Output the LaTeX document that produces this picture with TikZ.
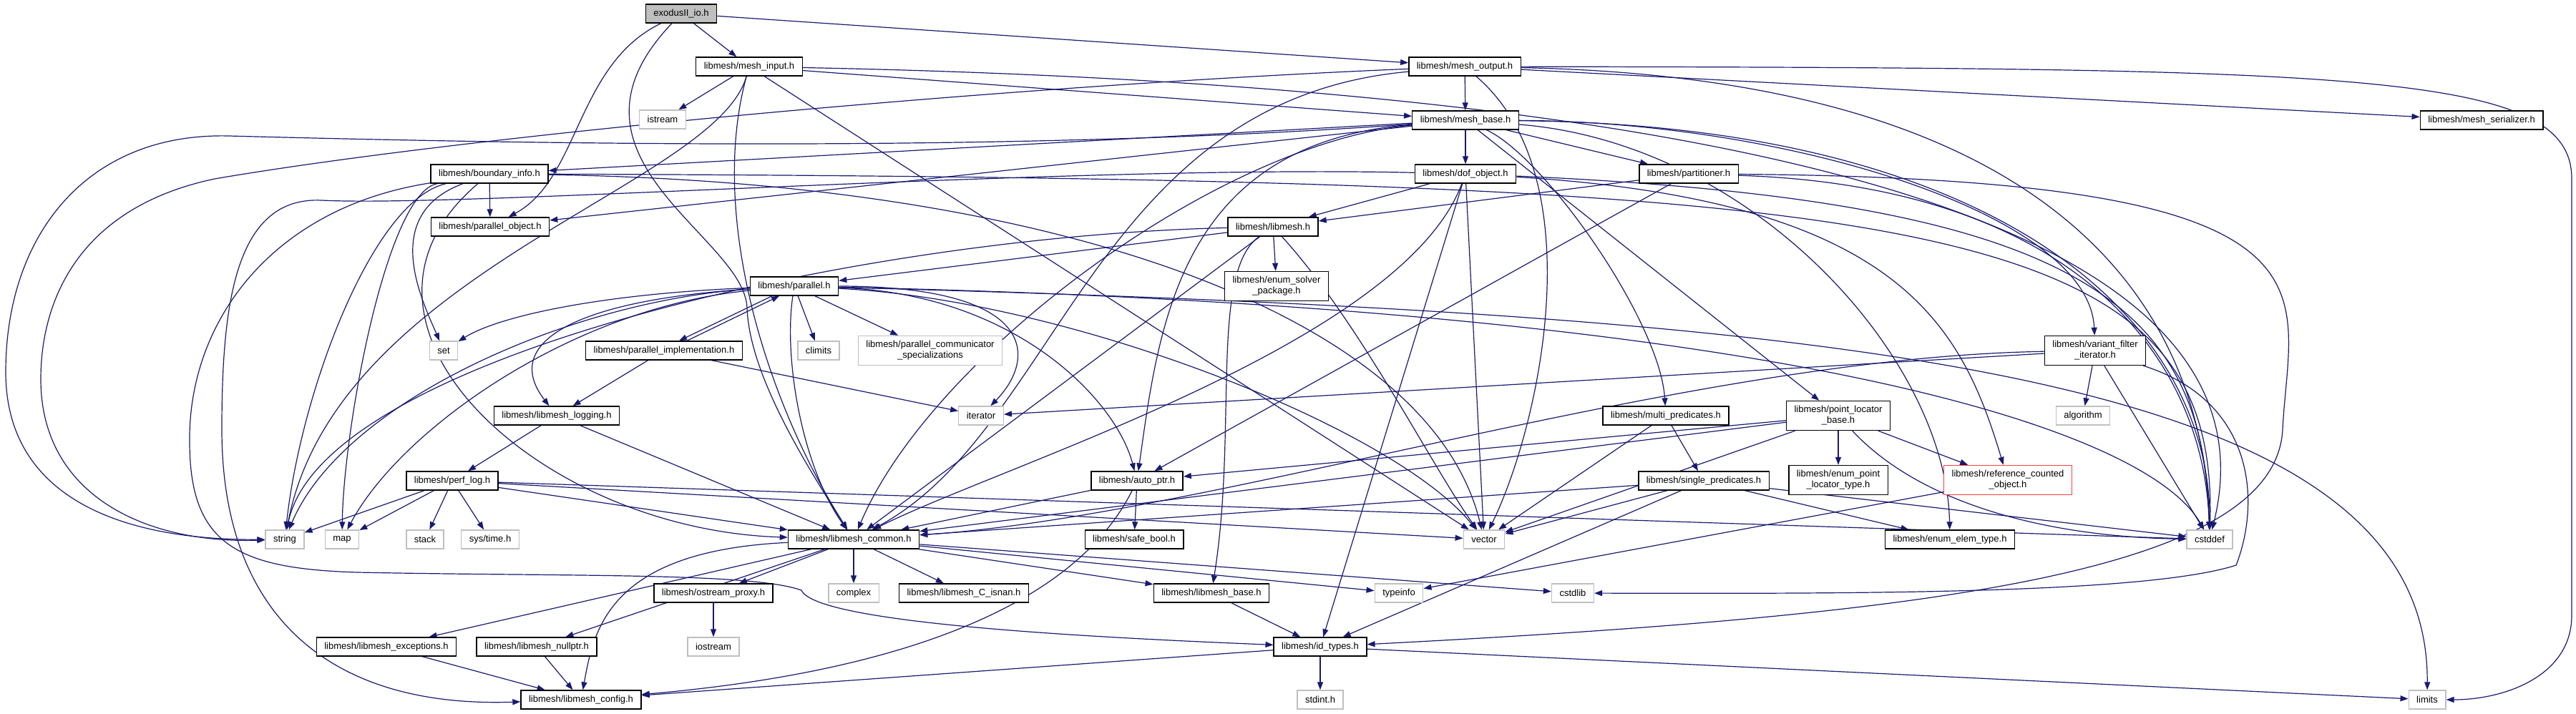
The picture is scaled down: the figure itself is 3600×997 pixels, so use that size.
\documentclass[tikz,border=0pt]{standalone}
\usepackage{fontspec}
\setmainfont{Liberation Sans}
\usepackage{tikz}
\usetikzlibrary{arrows.meta,backgrounds}
\definecolor{edgeblue}{HTML}{191970}
\definecolor{sysgray}{HTML}{BFBFBF}

\begin{document}
\begin{tikzpicture}[x=1pt,y=-1pt,
	hdr/.style={draw=black,line width=1.4pt,fill=white,inner xsep=11pt,inner ysep=0pt,minimum height=26pt,align=center,font={\fontsize{13}{15}\selectfont}},
	sys/.style={hdr,draw=sysgray},
	two/.style={minimum height=41pt},
	dep/.style={draw=edgeblue,line width=1.2pt,-{Triangle[length=11pt,width=8pt]},fill=none}]

			\useasboundingbox (0,0) rectangle (3600,997);

			\node[hdr,fill=sysgray] (exodus) at (952,19) {exodusII\_io.h};
			\node[hdr] (minput) at (1047,93) {libmesh/mesh\_input.h};
			\node[sys] (istream) at (926,167) {istream};
			\node[hdr] (moutput) at (2047,93) {libmesh/mesh\_output.h};
			\node[hdr] (mbase) at (2048,168) {libmesh/mesh\_base.h};
			\node[hdr] (mserial) at (3468,168) {libmesh/mesh\_serializer.h};
			\node[hdr] (binfo) at (684,243) {libmesh/boundary\_info.h};
			\node[hdr] (dofobj) at (2048,243) {libmesh/dof\_object.h};
			\node[hdr] (partit) at (2360,243) {libmesh/partitioner.h};
			\node[hdr] (pobject) at (685,317) {libmesh/parallel\_object.h};
			\node[hdr] (libmeshh) at (1779,317) {libmesh/libmesh.h};
			\node[hdr] (parallel) at (1110,400) {libmesh/parallel.h};
			\node[hdr,two] (solver) at (1784,400) {libmesh/enum\_solver\\\_package.h};
			\node[sys] (set) at (620,490) {set};
			\node[hdr] (pimpl) at (928,490) {libmesh/parallel\_implementation.h};
			\node[sys] (climits) at (1144,490) {climits};
			\node[sys,two] (pcomm) at (1300,490) {libmesh/parallel\_communicator\\\_specializations};
			\node[hdr,two] (vfilter) at (2928,490) {libmesh/variant\_filter\\\_iterator.h};
			\node[hdr] (logging) at (778,581) {libmesh/libmesh\_logging.h};
			\node[sys] (iterator) at (1371,581) {iterator};
			\node[hdr] (multi) at (2328,581) {libmesh/multi\_predicates.h};
			\node[hdr,two] (plocator) at (2569,581) {libmesh/point\_locator\\\_base.h};
			\node[sys] (algorithm) at (2911,581) {algorithm};
			\node[hdr] (perflog) at (632,672) {libmesh/perf\_log.h};
			\node[hdr] (autoptr) at (1589,672) {libmesh/auto\_ptr.h};
			\node[hdr] (single) at (2381,672) {libmesh/single\_predicates.h};
			\node[hdr,two] (eplt) at (2569,671) {libmesh/enum\_point\\\_locator\_type.h};
			\node[hdr,two,draw=red!75] (refcount) at (2806,671) {libmesh/reference\_counted\\\_object.h};
			\node[sys] (string) at (398,754) {string};
			\node[sys] (map) at (478,754) {map};
			\node[sys] (stack) at (594,754) {stack};
			\node[sys] (systime) at (685,754) {sys/time.h};
			\node[hdr] (common) at (1193,754) {libmesh/libmesh\_common.h};
			\node[hdr] (safebool) at (1585,754) {libmesh/safe\_bool.h};
			\node[sys] (vector) at (2074,754) {vector};
			\node[hdr] (elemtype) at (2725,754) {libmesh/enum\_elem\_type.h};
			\node[sys] (cstddef) at (3088,754) {cstddef};
			\node[hdr] (ostream) at (997,829) {libmesh/ostream\_proxy.h};
			\node[sys] (complex) at (1193,829) {complex};
			\node[hdr] (isnan) at (1347,829) {libmesh/libmesh\_C\_isnan.h};
			\node[hdr] (lmbase) at (1693,829) {libmesh/libmesh\_base.h};
			\node[sys] (typeinfo) at (1955,829) {typeinfo};
			\node[sys] (cstdlib) at (2198,829) {cstdlib};
			\node[hdr] (except) at (540,904) {libmesh/libmesh\_exceptions.h};
			\node[hdr] (nullptr) at (750,904) {libmesh/libmesh\_nullptr.h};
			\node[sys] (iostream) at (997,904) {iostream};
			\node[hdr] (idtypes) at (1845,904) {libmesh/id\_types.h};
			\node[hdr] (config) at (812,978) {libmesh/libmesh\_config.h};
			\node[sys] (stdint) at (1845,978) {stdint.h};
			\node[sys] (limits) at (3392,978) {limits};

			\begin{scope}[on background layer]
			\draw[dep] (exodus) -- (minput);
			\draw[dep] (exodus) -- (moutput);
			\draw[dep] (exodus) .. controls (805,90) and (810,250) .. (pobject);
			\draw[dep] (exodus) .. controls (760,220) and (1040,330) .. (1044,430) .. controls (1047,520) and (1120,640) .. (common);

			\draw[dep] (minput) -- (istream);
			\draw[dep] (minput) -- (mbase);
			\draw[dep] (minput) .. controls (990,300) and (1070,560) .. (common);
			\draw[dep] (minput) .. controls (1000,260) and (470,380) .. (string);
			\draw[dep] (minput) -- (vector);
			\draw[dep] (minput) .. controls (2400,120) and (3200,300) .. (cstddef);

			\draw[dep] (moutput) -- (mbase);
			\draw[dep] (moutput) -- (mserial);
			\draw[dep] (moutput) .. controls (1530,140) and (1480,600) .. (common);
			\draw[dep] (moutput) .. controls (1400,120) and (650,190) .. (300,250) .. controls (110,290) and (57,420) .. (57,530) .. controls (57,690) and (200,760) .. (string);
			\draw[dep] (moutput) .. controls (2230,250) and (2150,600) .. (vector);
			\draw[dep] (moutput) .. controls (2900,110) and (3080,450) .. (cstddef);
			\draw[dep] (moutput) .. controls (3300,95) and (3594,100) .. (3594,250) -- (3594,860) .. controls (3594,945) and (3500,978) .. (limits);

			\draw[dep] (mbase) .. controls (1650,200) and (1620,450) .. (autoptr);
			\draw[dep] (mbase) -- (binfo);
			\draw[dep] (mbase) -- (dofobj);
			\draw[dep] (mbase) .. controls (2450,200) and (2720,500) .. (elemtype);
			\draw[dep] (mbase) .. controls (1700,200) and (1300,500) .. (common);
			\draw[dep] (mbase) .. controls (2160,220) and (2320,450) .. (multi);
			\draw[dep] (mbase) -- (partit);
			\draw[dep] (mbase) -- (plocator);
			\draw[dep] (mbase) .. controls (2500,170) and (2920,300) .. (vfilter);
			\draw[dep] (mbase) -- (pobject);
			\draw[dep] (mbase) .. controls (2800,175) and (3090,450) .. (cstddef);
			\draw[dep] (mbase) .. controls (1400,215) and (700,200) .. (320,190) .. controls (120,185) and (8,330) .. (8,520) .. controls (8,690) and (160,755) .. (string);

			\draw[dep] (binfo) .. controls (440,450) and (750,740) .. (common);
			\draw[dep] (binfo) .. controls (380,290) and (262,450) .. (265,620) .. controls (266,760) and (330,795) .. (500,800) .. controls (800,806) and (1050,800) .. (1120,825) .. controls (1140,870) and (1500,890) .. (idtypes);
			\draw[dep] (binfo) -- (pobject);
			\draw[dep] (binfo) .. controls (2700,250) and (3100,300) .. (cstddef);
			\draw[dep] (binfo) .. controls (1500,255) and (2000,450) .. (vector);
			\draw[dep] (binfo) .. controls (540,270) and (480,600) .. (map);
			\draw[dep] (binfo) .. controls (530,300) and (590,420) .. (set);
			\draw[dep] (binfo) .. controls (520,280) and (420,550) .. (string);

			\draw[dep] (dofobj) -- (idtypes);
			\draw[dep] (dofobj) .. controls (1960,480) and (1400,650) .. (common);
			\draw[dep] (dofobj) -- (libmeshh);
			\draw[dep] (dofobj) .. controls (2650,280) and (2740,450) .. (refcount);
			\draw[dep] (dofobj) .. controls (2900,280) and (3080,420) .. (cstddef);
			\draw[dep] (dofobj) -- (vector);
			\draw[dep] (dofobj) .. controls (1500,230) and (650,290) .. (450,280) .. controls (330,274) and (310,420) .. (310,600) .. controls (310,860) and (460,990) .. (config);

			\draw[dep] (partit) -- (libmeshh);
			\draw[dep] (partit) -- (autoptr);
			\draw[dep] (partit) .. controls (3300,250) and (3200,400) .. (3190,600) .. controls (3180,800) and (2700,860) .. (idtypes);
			\draw[dep] (partit) .. controls (2900,260) and (3080,500) .. (cstddef);

			\draw[dep] (libmeshh) -- (common);
			\draw[dep] (libmeshh) .. controls (1690,380) and (1730,600) .. (lmbase);
			\draw[dep] (libmeshh) -- (solver);
			\draw[dep] (libmeshh) -- (parallel);
			\draw[dep] (libmeshh) .. controls (1200,330) and (450,500) .. (string);
			\draw[dep] (libmeshh) .. controls (1900,450) and (2000,650) .. (vector);

			\draw[dep] (parallel) .. controls (1095,500) and (1120,650) .. (common);
			\draw[dep] (parallel) .. controls (800,420) and (700,480) .. (logging);
			\draw[dep] (parallel) .. controls (1420,410) and (1560,560) .. (autoptr);
			\draw[dep] (parallel) -- (pcomm);
			\draw[dep] ([xshift=-31pt]parallel.south) -- ([xshift=21pt]pimpl.north);
			\draw[dep] (parallel) .. controls (2500,430) and (3000,600) .. (cstddef);
			\draw[dep] (parallel) -- (climits);
			\draw[dep] (parallel) .. controls (1450,400) and (1450,500) .. (iterator);
			\draw[dep] (parallel) .. controls (2600,440) and (3395,520) .. (limits);
			\draw[dep] (parallel) .. controls (800,430) and (560,600) .. (map);
			\draw[dep] (parallel) .. controls (850,410) and (700,440) .. (set);
			\draw[dep] (parallel) .. controls (800,420) and (480,560) .. (string);
			\draw[dep] (parallel) .. controls (1500,420) and (1950,600) .. (vector);

			\draw[dep] ([xshift=32pt]pimpl.north) -- ([xshift=-21pt]parallel.south);
			\draw[dep] (pimpl) -- (logging);
			\draw[dep] (pimpl) -- (iterator);

			\draw[dep] (logging) -- (common);
			\draw[dep] (logging) -- (perflog);

			\draw[dep] (perflog) -- (common);
			\draw[dep] (perflog) -- (string);
			\draw[dep] (perflog) -- (map);
			\draw[dep] (perflog) -- (stack);
			\draw[dep] (perflog) -- (systime);
			\draw[dep] (perflog) -- (vector);
			\draw[dep] (perflog) -- (cstddef);

			\draw[dep] (common) .. controls (850,770) and (830,880) .. (config);
			\draw[dep] (common) -- (except);
			\draw[dep] (common) -- (nullptr);
			\draw[dep] (common) -- (ostream);
			\draw[dep] (common) -- (complex);
			\draw[dep] (common) -- (isnan);
			\draw[dep] (common) -- (lmbase);
			\draw[dep] (common) -- (typeinfo);
			\draw[dep] (common) -- (cstdlib);

			\draw[dep] (except) -- (config);
			\draw[dep] (nullptr) -- (config);
			\draw[dep] (ostream) -- (iostream);
			\draw[dep] (lmbase) -- (idtypes);
			\draw[dep] (idtypes) -- (stdint);
			\draw[dep] (idtypes) -- (limits);
			\draw[dep] (idtypes) -- (config);

			\draw[dep] (autoptr) -- (common);
			\draw[dep] (autoptr) -- (safebool);
			\draw[dep] (autoptr) .. controls (1500,850) and (1250,940) .. (config);

			\draw[dep] (multi) -- (single);
			\draw[dep] (multi) -- (vector);

			\draw[dep] (single) -- (common);
			\draw[dep] (single) -- (vector);
			\draw[dep] (single) -- (elemtype);
			\draw[dep] (single) -- (cstddef);
			\draw[dep] (single) -- (idtypes);

			\draw[dep] (plocator) -- (autoptr);
			\draw[dep] (plocator) -- (common);
			\draw[dep] (plocator) -- (vector);
			\draw[dep] (plocator) -- (eplt);
			\draw[dep] (plocator) -- (refcount);
			\draw[dep] (plocator) .. controls (2680,700) and (2850,750) .. (cstddef);

			\draw[dep] (refcount) -- (typeinfo);

			\draw[dep] (vfilter) -- (iterator);
			\draw[dep] (vfilter) -- (algorithm);
			\draw[dep] (vfilter) -- (cstddef);
			\draw[dep] (vfilter) .. controls (2350,500) and (1700,720) .. (common);
			\draw[dep] (vfilter) .. controls (3150,560) and (3160,700) .. (3125,790) .. controls (3000,830) and (2600,830) .. (cstdlib);
			\end{scope}

		\end{tikzpicture}
\end{document}
